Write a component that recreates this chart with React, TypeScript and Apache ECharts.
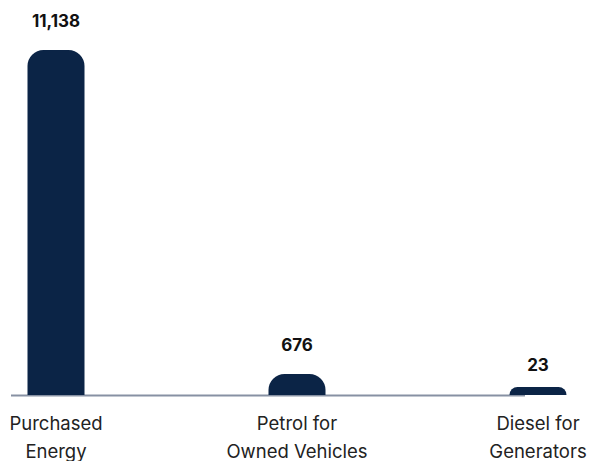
import React, { useEffect, useRef } from "react";
import * as echarts from "echarts";

const categories: string[] = ["Purchased\nEnergy", "Petrol for\nOwned Vehicles", "Diesel for\nGenerators"];
const values: number[] = [11138, 676, 23];
const labelDistances: number[] = [21, 21, 14];

const BAR_COLOR = "#0b2446";
const AXIS_COLOR = "#8791a3";

export default function App() {
  const ref = useRef<HTMLDivElement>(null);
  useEffect(() => {
    if (!ref.current) return;
    const chart = echarts.init(ref.current, null, { renderer: "svg" });
    chart.setOption({
      animation: false,
      grid: { left: 56, right: 59, top: 50, bottom: 66, containLabel: false, outerBoundsMode: "none" },
      xAxis: {
        type: "category",
        data: categories,
        boundaryGap: false,
        axisLine: { show: false },
        axisTick: { show: false },
        axisLabel: {
          margin: 14,
          fontFamily: "Inter",
          fontSize: 18.5,
          lineHeight: 28,
          color: "#222222",
          interval: 0,
        },
      },
      yAxis: {
        type: "value",
        min: 0,
        max: "dataMax",
        show: false,
        splitLine: { show: false },
      },
      graphic: [
        {
          type: "line",
          z: 0,
          shape: { x1: 11, y1: 395.5, x2: 525, y2: 395.5 },
          style: { stroke: AXIS_COLOR, lineWidth: 2 },
        },
      ],
      series: [
        {
          type: "bar",
          z: 3,
          barWidth: 57,
          barMinHeight: 8,
          data: values.map((v, i) => ({
            value: v,
            label: { distance: labelDistances[i] },
          })),
          itemStyle: { color: BAR_COLOR, borderRadius: [16, 16, 0, 0] },
          label: {
            show: true,
            position: "top",
            fontFamily: "Inter",
            fontWeight: "bold",
            fontSize: 17,
            color: "#111111",
            formatter: (p: any) => Number(p.value).toLocaleString("en-US"),
          },
        },
      ],
    });
    return () => chart.dispose();
  }, []);
  return (
    <div
      ref={ref}
      style={{ position: "fixed", left: 0, top: 0, width: 597, height: 461, background: "#ffffff" }}
    />
  );
}
